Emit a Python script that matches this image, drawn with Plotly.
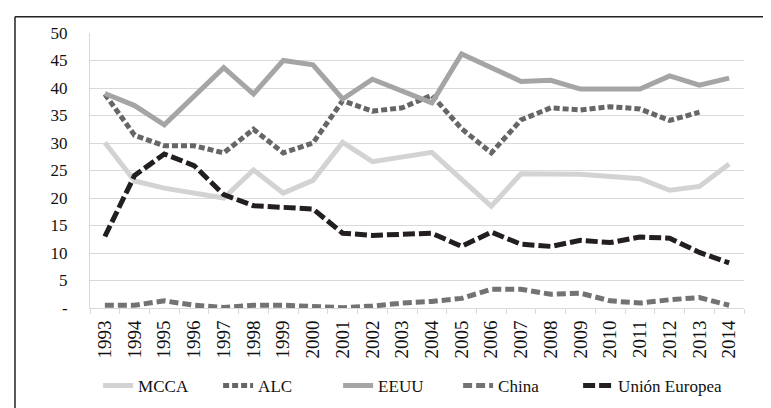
import plotly.graph_objects as go

years = [str(y) for y in range(1993, 2015)]

mcca = [30.1, 23.1, 21.8, 20.9, 20.0, 25.1, 20.9, 23.2, 30.1, 26.6, 27.5, 28.3,
        23.4, 18.5, 24.4, 24.4, 24.3, 23.9, 23.5, 21.4, 22.1, 26.2]
alc = [38.9, 31.4, 29.5, 29.5, 28.2, 32.5, 28.2, 30.0, 37.7, 35.8, 36.4, 38.7,
       32.6, 28.2, 34.2, 36.4, 36.0, 36.6, 36.2, 34.1, 35.6, None]
eeuu = [39.0, 36.8, 33.3, 38.4, 43.7, 38.9, 45.0, 44.2, 38.0, 41.6, 39.5, 37.3,
        46.2, 43.7, 41.2, 41.4, 39.8, 39.8, 39.8, 42.2, 40.5, 41.8]
china = [0.5, 0.5, 1.3, 0.5, 0.1, 0.5, 0.5, 0.3, 0.05, 0.35, 0.9, 1.2,
         1.75, 3.4, 3.4, 2.5, 2.7, 1.3, 0.9, 1.5, 1.9, 0.5]
ue = [13.0, 24.1, 28.0, 25.9, 20.6, 18.6, 18.3, 18.0, 13.6, 13.2, 13.4, 13.6,
      11.2, 13.8, 11.6, 11.2, 12.3, 11.9, 12.9, 12.7, 10.1, 8.2]

y_ticks = [0, 5, 10, 15, 20, 25, 30, 35, 40, 45, 50]
y_ticktext = ["-", "5", "10", "15", "20", "25", "30", "35", "40", "45", "50"]

series = [
    ("MCCA", mcca, "#d3d3d3", "solid"),
    ("ALC", alc, "#666666", "6px,3px"),
    ("EEUU", eeuu, "#a5a5a5", "solid"),
    ("China", china, "#737373", "9px,4px"),
    ("Unión Europea", ue, "#231f20", "12px,4px"),
]

FONT = "Liberation Serif"

fig = go.Figure()
for name, vals, color, dash in series:
    fig.add_trace(go.Scatter(
        x=years, y=vals, name=name, mode="lines",
        line=dict(color=color, width=5, dash=dash),
        connectgaps=False,
        legendwidth=115 if name == "Unión Europea" else None,
    ))

fig.update_layout(
    width=771, height=408,
    margin=dict(l=82, r=35, t=25, b=97),
    paper_bgcolor="white", plot_bgcolor="white",
    font=dict(family=FONT, color="#111111", size=16),
    showlegend=True,
    legend=dict(
        orientation="h", x=0.0124, xanchor="left", y=-0.283, yanchor="middle",
        font=dict(family=FONT, size=17, color="#111111"),
        entrywidth=75, entrywidthmode="pixels",
        bgcolor="rgba(0,0,0,0)",
    ),
    xaxis=dict(
        type="category", range=[-0.5, 21.5],
        showgrid=False, showline=True, linecolor="#d9d9d9", linewidth=1,
        ticks="outside", tickson="boundaries", ticklen=5, tickcolor="#d9d9d9",
        tickangle=-90, tickfont=dict(family=FONT, size=19, color="#111111"),
        ticklabelstandoff=4,
    ),
    yaxis=dict(
        range=[0, 50], tickvals=y_ticks, ticktext=y_ticktext,
        showgrid=True, gridcolor="#d9d9d9", gridwidth=1,
        showline=True, linecolor="#d9d9d9", linewidth=1,
        zeroline=False, ticks="",
        tickfont=dict(family=FONT, size=17, color="#111111"),
        ticklabelstandoff=18,
    ),
    shapes=[
        dict(type="line", xref="paper", yref="paper",
             x0=-0.1147, x1=-0.1147, y0=1.0594, y1=-0.5,
             line=dict(color="#222222", width=1.5)),
        dict(type="line", xref="paper", yref="paper",
             x0=-0.1147, x1=1.2, y0=1.0594, y1=1.0594,
             line=dict(color="#222222", width=1.5)),
    ],
)

fig.write_html("out.html")
